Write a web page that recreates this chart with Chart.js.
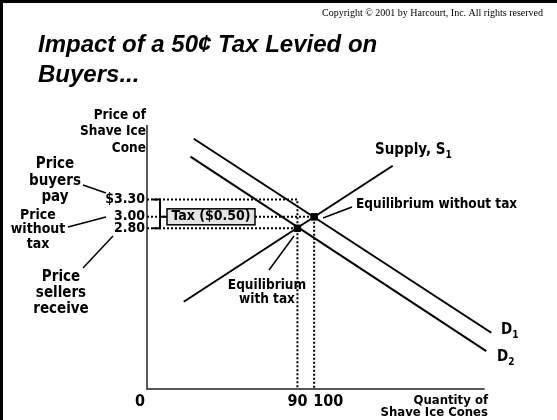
<!DOCTYPE html>
<html>
<head>
<meta charset="utf-8">
<script src="https://cdn.jsdelivr.net/npm/chart.js@4.4.0/dist/chart.umd.min.js"></script>
<style>
  html, body { margin: 0; padding: 0; background: #fff; }
</style>
</head>
<body>
<canvas id="myChart" width="557" height="420"></canvas>
<script>
// price ticks (dollars) and their labels
var priceValues = [3.30, 3.00, 2.80];
var priceLabels = ["$3.30", "3.00", "2.80"];
// quantity ticks and labels
var qtyValues = [0, 90, 100];
var qtyLabels = ["0", "90", "100"];
// curve end points
var supplyX = [22, 147];
var supplyY = [1.52, 3.89];
var demand1X = [28, 206];
var demand1Y = [4.36, 0.98];
var demand2X = [26, 203];
var demand2Y = [4.05, 0.66];
// equilibrium without tax, with tax
var eqQty = [100, 90];
var eqPrice = [3.00, 2.80];
var taxLabel = "Tax ($0.50)";

function pts(xs, ys) {
  return xs.map(function (x, i) { return { x: x, y: ys[i] }; });
}

var FONT = '"DejaVu Sans Condensed", "Open Sans", sans-serif';
var TITLE_FONT = 'italic bold 24px "Liberation Sans", Arial, sans-serif';

var guideStyle = {
  showLine: true,
  borderColor: "#000",
  borderWidth: 2,
  borderDash: [2, 2],
  pointRadius: 0,
  fill: false
};
var curveStyle = {
  showLine: true,
  borderColor: "#000",
  borderWidth: 2,
  pointRadius: 0,
  fill: false
};

var datasets = [
  Object.assign({ data: pts([0, qtyValues[1], qtyValues[1]], [priceValues[0], priceValues[0], 0]) }, guideStyle),
  Object.assign({ data: pts([0, qtyValues[2], qtyValues[2]], [priceValues[1], priceValues[1], 0]) }, guideStyle),
  Object.assign({ data: pts([0, qtyValues[1]], [priceValues[2], priceValues[2]]) }, guideStyle),
  Object.assign({ data: pts(supplyX, supplyY) }, curveStyle),
  Object.assign({ data: pts(demand1X, demand1Y) }, curveStyle),
  Object.assign({ data: pts(demand2X, demand2Y) }, curveStyle),
  {
    data: pts(eqQty, eqPrice),
    showLine: false,
    pointStyle: "rect",
    pointRadius: 4.6,
    backgroundColor: "#000",
    borderColor: "#000"
  }
];

function txt(ctx, s, x, y, size, align, font) {
  ctx.font = font || ("bold " + size + "px " + FONT);
  ctx.textAlign = align || "center";
  ctx.textBaseline = "middle";
  ctx.fillStyle = "#000";
  ctx.fillText(s, x, y);
}
function sub(ctx, s, n, x, y, size) {
  txt(ctx, s, x, y, size, "left");
  var w = ctx.measureText(s).width;
  txt(ctx, n, x + w, y + 5, Math.round(size * 0.68), "left");
}
function seg(ctx, x1, y1, x2, y2, w) {
  ctx.beginPath();
  ctx.moveTo(x1, y1);
  ctx.lineTo(x2, y2);
  ctx.lineWidth = w || 1.5;
  ctx.strokeStyle = "#000";
  ctx.stroke();
}

var slideText = {
  id: "slideText",
  beforeDatasetsDraw: function (chart) {
    var ctx = chart.ctx;
    var xs = chart.scales.x, ys = chart.scales.y;
    ctx.save();
    // axes
    ctx.strokeStyle = "#222";
    ctx.lineWidth = 1.5;
    ctx.beginPath();
    ctx.moveTo(xs.getPixelForValue(0), ys.top);
    ctx.lineTo(xs.getPixelForValue(0), ys.getPixelForValue(0));
    ctx.lineTo(xs.getPixelForValue(202), ys.getPixelForValue(0));
    ctx.stroke();
    ctx.restore();
  },
  afterDatasetsDraw: function (chart) {
    var ctx = chart.ctx;
    var xs = chart.scales.x, ys = chart.scales.y;
    ctx.save();

    // slide frame
    ctx.fillStyle = "#000";
    ctx.fillRect(0, 0, 557, 3);
    ctx.fillRect(0, 0, 3, 420);

    txt(ctx, "Copyright \u00a9 2001 by Harcourt, Inc. All rights reserved", 543, 13, 10, "right", '10px "Liberation Serif", serif');
    txt(ctx, "Impact of a 50\u00a2 Tax Levied on", 38, 45, 24, "left", TITLE_FONT);
    txt(ctx, "Buyers...", 38, 75, 24, "left", TITLE_FONT);

    // y axis title
    txt(ctx, "Price of", 146, 115, 13.5, "right");
    txt(ctx, "Shave Ice", 146, 131.5, 13.5, "right");
    txt(ctx, "Cone", 146, 148, 13.5, "right");

    // price tick labels
    priceValues.forEach(function (p, i) {
      txt(ctx, priceLabels[i], 145, ys.getPixelForValue(p), 14, "right");
    });

    // side notes
    txt(ctx, "Price", 55, 164, 15);
    txt(ctx, "buyers", 55, 181, 15);
    txt(ctx, "pay", 55, 197, 15);
    seg(ctx, 83, 185, 106, 193);

    txt(ctx, "Price", 38, 215, 14);
    txt(ctx, "without", 38, 229.5, 14);
    txt(ctx, "tax", 38, 244, 14);
    seg(ctx, 68, 227, 106, 217);

    txt(ctx, "Price", 61, 277, 15);
    txt(ctx, "sellers", 61, 293, 15);
    txt(ctx, "receive", 61, 309, 15);
    seg(ctx, 113, 236, 83, 268);

    // tax bracket and box
    var yTop = ys.getPixelForValue(priceValues[0]);
    var yMid = ys.getPixelForValue(priceValues[1]);
    var yBot = ys.getPixelForValue(priceValues[2]);
    ctx.beginPath();
    ctx.moveTo(153, yTop);
    ctx.lineTo(160, yTop);
    ctx.lineTo(160, yBot);
    ctx.lineTo(153, yBot);
    ctx.moveTo(160, yMid);
    ctx.lineTo(167, yMid);
    ctx.lineWidth = 2;
    ctx.strokeStyle = "#000";
    ctx.stroke();
    ctx.fillStyle = "#e4e4e4";
    ctx.fillRect(167, yMid - 8, 88, 16);
    ctx.lineWidth = 1.5;
    ctx.strokeRect(167, yMid - 8, 88, 16);
    txt(ctx, taxLabel, 211, yMid, 14);

    // curve labels
    sub(ctx, "Supply, S", "1", 375, 150, 15);
    sub(ctx, "D", "1", 501, 330, 15);
    sub(ctx, "D", "2", 497, 357, 15);

    txt(ctx, "Equilibrium without tax", 356, 204, 13.5, "left");
    seg(ctx, 352, 207, 323, 218);
    txt(ctx, "Equilibrium", 267, 285, 13.5);
    txt(ctx, "with tax", 267, 299, 13.5);
    seg(ctx, 269, 270, 294, 236);

    // quantity tick labels
    txt(ctx, qtyLabels[0], xs.getPixelForValue(qtyValues[0]) - 7, 402, 16);
    txt(ctx, qtyLabels[1], xs.getPixelForValue(qtyValues[1]), 402, 16);
    txt(ctx, qtyLabels[2], xs.getPixelForValue(qtyValues[2]) - 1, 402, 16, "left");
    txt(ctx, "Quantity of", 488, 401, 13, "right");
    txt(ctx, "Shave Ice Cones", 488, 413, 13, "right");

    ctx.restore();
  }
};

new Chart("myChart", {
  type: "scatter",
  data: { datasets: datasets },
  options: {
    responsive: false,
    animation: false,
    layout: { padding: { left: 147, right: 59, top: 125, bottom: 31 } },
    scales: {
      x: { type: "linear", min: 0, max: 210, display: false },
      y: { type: "linear", min: 0, max: 4.6, display: false }
    },
    plugins: {
      legend: { display: false },
      tooltip: { enabled: false }
    }
  },
  plugins: [slideText]
});
</script>
</body>
</html>
